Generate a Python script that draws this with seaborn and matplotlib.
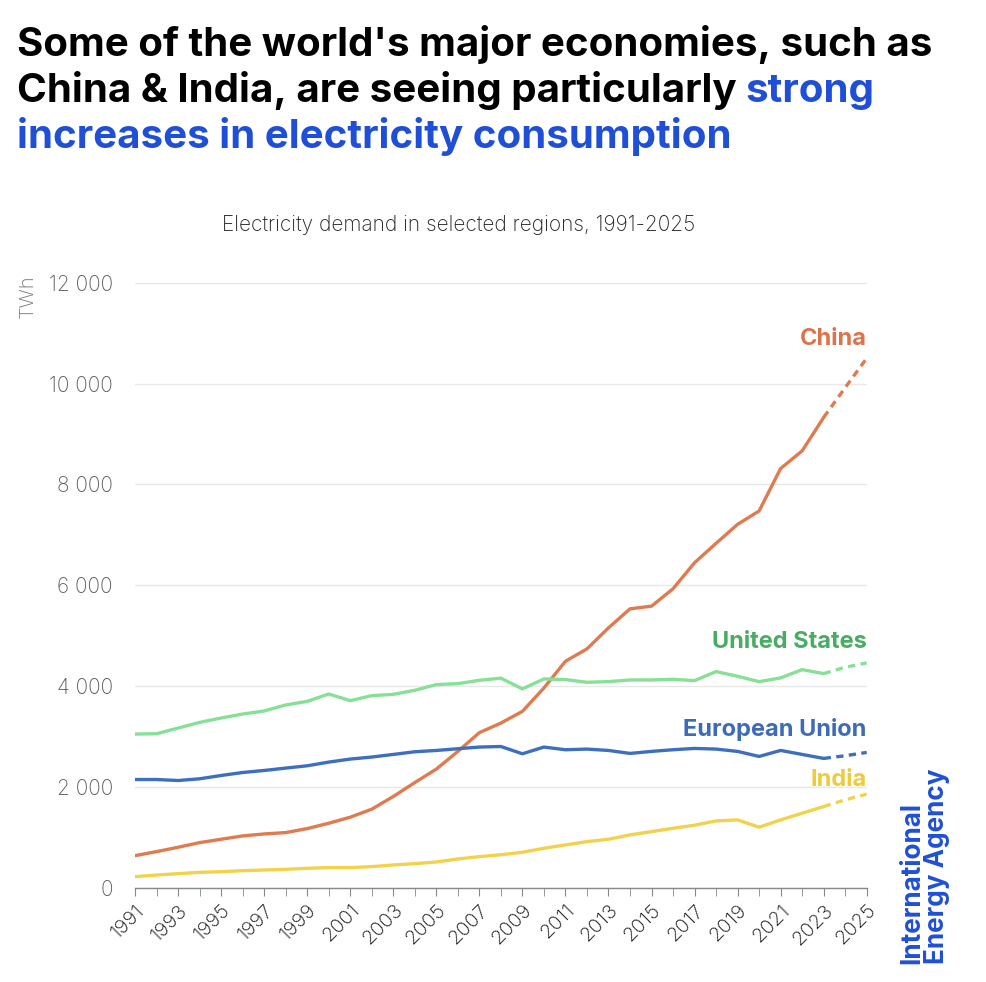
import seaborn as sns
import matplotlib.pyplot as plt
import matplotlib.ticker as mticker
import pandas as pd

# Data (TWh); 2024-2025 are projections
years = list(range(1991, 2026))
china = [642, 722, 808, 900, 967, 1033, 1072, 1099, 1178, 1284, 1404, 1563, 1814, 2091,
         2357, 2708, 3080, 3270, 3502, 3965, 4495, 4740, 5157, 5534, 5587, 5932, 6448,
         6832, 7209, 7474, 8315, 8665, 9328, 9918, 10500]
united_states = [3052, 3058, 3171, 3283, 3370, 3449, 3509, 3628, 3700, 3846, 3714, 3813,
                 3839, 3919, 4032, 4051, 4117, 4160, 3946, 4145, 4131, 4078, 4091, 4124,
                 4124, 4137, 4111, 4290, 4197, 4091, 4164, 4329, 4250, 4376, 4462]
european_union = [2151, 2151, 2131, 2165, 2231, 2290, 2330, 2377, 2423, 2496, 2556, 2596,
                  2648, 2701, 2727, 2761, 2794, 2805, 2661, 2794, 2741, 2754, 2727, 2668,
                  2708, 2741, 2767, 2754, 2708, 2608, 2727, 2648, 2569, 2622, 2688]
india = [225, 258, 284, 311, 324, 344, 357, 371, 391, 404, 404, 424, 457, 483, 516, 576,
         622, 660, 709, 788, 854, 920, 967, 1053, 1118, 1185, 1245, 1331, 1350, 1205, 1350,
         1483, 1615, 1748, 1861]
last_actual = 2023

regions = ["China", "United States", "European Union", "India"]
series = [china, united_states, european_union, india]
line_colors = {"China": "#E07B50", "United States": "#86E196",
               "European Union": "#3E6FBE", "India": "#F2D24B"}
label_colors = {"China": "#DD7449", "United States": "#48AC62",
                "European Union": "#3C6BBA", "India": "#EECB3C"}
label_values = {"China": 10880, "United States": 4870, "European Union": 3140, "India": 2140}

rows = []
for name, vals in zip(regions, series):
    for yr, v in zip(years, vals):
        if yr <= last_actual:
            rows.append({"year": yr, "TWh": v, "region": name, "kind": "actual"})
        if yr >= last_actual:
            rows.append({"year": yr, "TWh": v, "region": name, "kind": "projection"})
df = pd.DataFrame(rows)

sns.set_style("white")
plt.rcParams["font.family"] = ["Inter", "DejaVu Sans"]

fig = plt.figure(figsize=(9.86, 9.82), dpi=100)
ax = fig.add_axes([0.137, 0.0957, 0.742, 0.6165])

sns.lineplot(data=df, x="year", y="TWh", hue="region", style="kind",
             palette=line_colors, dashes={"actual": "", "projection": (2.2, 1.6)},
             linewidth=2.4, legend=False, ax=ax)

ax.set_xlim(1991, 2025)
ax.set_ylim(0, 12000)
ax.yaxis.set_major_locator(mticker.MultipleLocator(2000))
ax.yaxis.set_major_formatter(mticker.FuncFormatter(lambda v, p: f"{int(v):,}".replace(",", " ")))
ax.xaxis.set_major_locator(mticker.FixedLocator(list(range(1991, 2026, 2))))
ax.xaxis.set_minor_locator(mticker.MultipleLocator(1))
ax.xaxis.set_major_formatter(mticker.FuncFormatter(lambda v, p: f"{int(v)}"))
ax.grid(axis="y", color="#E8E8E8", linewidth=1)
ax.set_axisbelow(True)
for side in ["top", "right", "left"]:
    ax.spines[side].set_visible(False)
ax.spines["bottom"].set_color("#888888")
ax.spines["bottom"].set_linewidth(1)
ax.tick_params(axis="y", length=0, pad=16, labelsize=15, labelcolor="#5E5E5E")
ax.tick_params(axis="x", which="both", direction="out", length=6, color="#888888",
               bottom=True, labelsize=14.5, labelcolor="#111111")
for lbl in ax.get_yticklabels():
    lbl.set_fontweight("light")
plt.setp(ax.get_xticklabels(), rotation=45, ha="right", rotation_mode="anchor",
         fontweight="light")
ax.set_xlabel("")
ax.set_ylabel("")

fig.text(0.028, 0.698, "TWh", rotation=90, ha="center", va="center",
         fontsize=14.5, color="#777777", fontweight="light")

for name in regions:
    ax.text(2025, label_values[name], name, ha="right", va="center",
            fontsize=17, fontweight="bold", color=label_colors[name])

# Title, with the last words in blue
title_kw = dict(fontsize=29, fontweight="bold")
fig.text(0.017, 0.955, "Some of the world's major economies, such as",
         color="#000000", va="center", **title_kw)
t2 = fig.text(0.017, 0.908, "China & India, are seeing particularly ",
              color="#000000", va="center", **title_kw)
fig.canvas.draw()
ax.annotate("strong", xy=(1, 0), xycoords=t2, va="bottom", ha="left",
            color="#1F4FD6", annotation_clip=False, **title_kw)
fig.text(0.017, 0.861, "increases in electricity consumption",
         color="#1F4FD6", va="center", **title_kw)

fig.text(0.465, 0.771, "Electricity demand in selected regions, 1991-2025",
         ha="center", va="center", fontsize=15, color="#222222", fontweight="light")

fig.text(0.938, 0.018, "International\nEnergy Agency", rotation=90, ha="center",
         va="bottom", fontsize=18.8, fontweight="bold", color="#1F4FD6",
         linespacing=0.95, multialignment="left")

fig.savefig("out.png", dpi=100)
